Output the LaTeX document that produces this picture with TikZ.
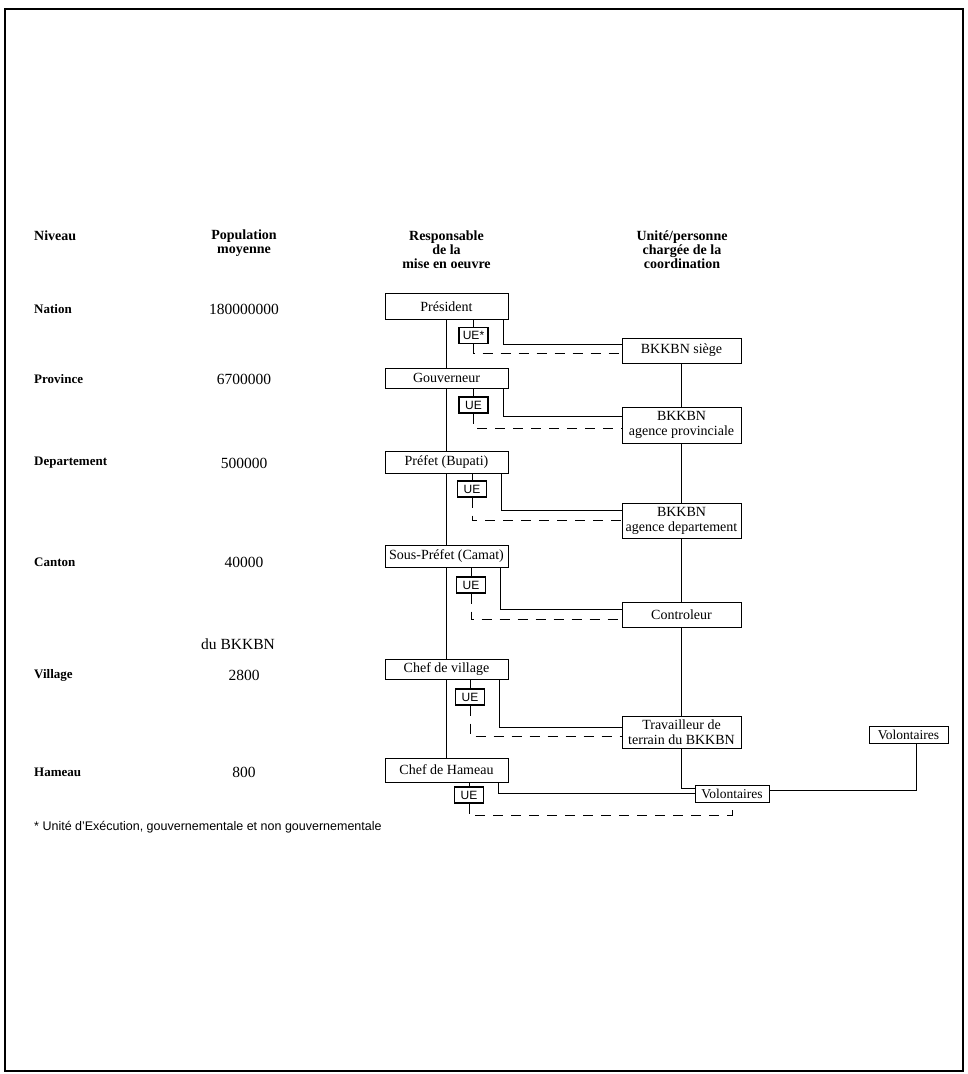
\documentclass[tikz,border=0pt]{standalone}
\usepackage{fontspec}
\setmainfont{Liberation Serif}
\setsansfont{Liberation Sans}
\usepackage{tikz}

\tikzset{
  resp/.style={draw, line width=1pt, minimum width=123pt, minimum height=22pt, inner sep=1pt, font=\fontsize{14}{15}\selectfont},
  coordbox/.style={draw, line width=1pt, minimum width=119pt, minimum height=25pt, inner sep=1pt, align=center, font=\fontsize{14}{15}\selectfont},
  uebox/.style={draw, line width=1.2pt, minimum width=29pt, minimum height=16pt, inner sep=1pt, font=\sffamily\fontsize{12}{12}\selectfont},
  volbox/.style={draw, line width=1pt, minimum height=17pt, inner sep=2pt, font=\fontsize{13.5}{14}\selectfont},
  entete/.style={align=center, inner sep=0pt, font=\bfseries\fontsize{14}{14}\selectfont},
  niveau/.style={anchor=west, inner sep=0pt, font=\bfseries\fontsize{13}{14}\selectfont},
  popul/.style={inner sep=0pt, font=\fontsize{15.5}{16}\selectfont},
  lien/.style={line width=0.8pt},
  tirets/.style={line width=0.8pt, dash pattern=on 10pt off 8pt},
}

\begin{document}
\begin{tikzpicture}[x=1pt,y=-1pt]

\useasboundingbox (0,0) rectangle (968,1074);
\draw[line width=1.5pt] (5,9) rectangle (963,1071);

% en-tetes
\node[entete, anchor=west] (niv) at (34,236) {Niveau};
\node[entete] (pop) at (244,243) {Population\\moyenne};
\node[entete] (resph) at (446.5,250) {Responsable\\de la\\mise en oeuvre};
\node[entete] (unite) at (682,250) {Unité/personne\\chargée de la\\coordination};

% niveaux
\node[niveau] (nation) at (34,309) {Nation};
\node[niveau] (province) at (34,379) {Province};
\node[niveau] (depart) at (34,463) {Departement};
\node[niveau] (canton) at (34,562) {Canton};
\node[niveau] (village) at (34,675) {Village};
\node[niveau] (hameau) at (34,772) {Hameau};

\node[popul] (pnation) at (244,309) {180000000};
\node[popul] (pprovince) at (244,379) {6700000};
\node[popul] (pdepart) at (244,463) {500000};
\node[popul] (pcanton) at (244,562) {40000};
\node[popul] (dubk) at (238,644) {du BKKBN};
\node[popul] (pvillage) at (244,675) {2800};
\node[popul] (phameau) at (244,772) {800};

% responsables
\node[resp, minimum height=26pt] (pres) at (446.5,306.5) {Président};
\node[resp, minimum height=20pt] (gouv) at (446.5,378) {Gouverneur};
\node[resp] (pref) at (446.5,462.5) {Préfet (Bupati)};
\node[resp] (sous) at (446.5,556) {Sous-Préfet (Camat)};
\node[resp, minimum height=20pt] (vill) at (446.5,669) {Chef de village};
\node[resp, minimum height=24pt] (ham) at (446.5,770) {Chef de Hameau};

\node[uebox] (ue1) at (473.5,335.5) {UE*};
\node[uebox] (ue2) at (473.5,405) {UE};
\node[uebox] (ue3) at (472,489) {UE};
\node[uebox] (ue4) at (471,585) {UE};
\node[uebox] (ue5) at (470,697) {UE};
\node[uebox] (ue6) at (469,795) {UE};

% coordination
\node[coordbox] (siege) at (681.5,350.5) {BKKBN siège};
\node[coordbox, minimum height=36pt] (prov) at (681.5,425) {BKKBN\\agence provinciale};
\node[coordbox, minimum height=35pt] (dept) at (681.5,520.5) {BKKBN\\agence departement};
\node[coordbox] (ctrl) at (681.5,614.5) {Controleur};
\node[coordbox, minimum height=32pt] (trav) at (681.5,732) {Travailleur de\\terrain du BKKBN};
\node[volbox, minimum width=74pt] (vol) at (732,793.5) {Volontaires};
\node[volbox, minimum width=79pt] (volr) at (908.5,734.5) {Volontaires};

\draw[lien] (pres) -- (gouv);
\draw[lien] (gouv) -- (pref);
\draw[lien] (pref) -- (sous);
\draw[lien] (sous) -- (vill);
\draw[lien] (vill) -- (ham);

\draw[lien] (ue1) -- (ue1 |- pres.south);
\draw[lien] (ue2) -- (ue2 |- gouv.south);
\draw[lien] (ue3) -- (ue3 |- pref.south);
\draw[lien] (ue4) -- (ue4 |- sous.south);
\draw[lien] (ue5) -- (ue5 |- vill.south);
\draw[lien] (ue6) -- (ue6 |- ham.south);

\draw[lien] ([xshift=-5pt]pres.south east) |- ([yshift=6.5pt]siege.west);
\draw[lien] ([xshift=-5pt]gouv.south east) |- ([yshift=9pt]prov.west);
\draw[lien] ([xshift=-7pt]pref.south east) |- ([yshift=10.5pt]dept.west);
\draw[lien] ([xshift=-8pt]sous.south east) |- ([yshift=5.5pt]ctrl.west);
\draw[lien] ([xshift=-9pt]vill.south east) |- ([yshift=5pt]trav.west);
\draw[lien] ([xshift=-10pt]ham.south east) |- (vol.west);

\draw[tirets] (ue1.south) |- ([yshift=-2.5pt]siege.west);
\draw[tirets] (ue2.south) |- ([yshift=-3pt]prov.west);
\draw[tirets] (ue3.south) |- (dept.west);
\draw[tirets] (ue4.south) |- ([yshift=-4.5pt]ctrl.west);
\draw[tirets] (ue5.south) |- ([yshift=-4pt]trav.west);
\draw[tirets] (ue6.south) |- ([yshift=-13pt]vol.south) -- (vol.south);

\draw[lien] (siege) -- (prov);
\draw[lien] (prov) -- (dept);
\draw[lien] (dept) -- (ctrl);
\draw[lien] (ctrl) -- (trav);
\draw[lien] (trav.south) |- ([yshift=5.5pt]vol.west);
\draw[lien] ([yshift=3.5pt]vol.east) -| ([xshift=7.5pt]volr.south);

\node[anchor=west, inner sep=0pt, font=\sffamily\fontsize{12.5}{13}\selectfont] (note) at (34,827) {* Unité d'Exécution, gouvernementale et non gouvernementale};

\end{tikzpicture}
\end{document}
